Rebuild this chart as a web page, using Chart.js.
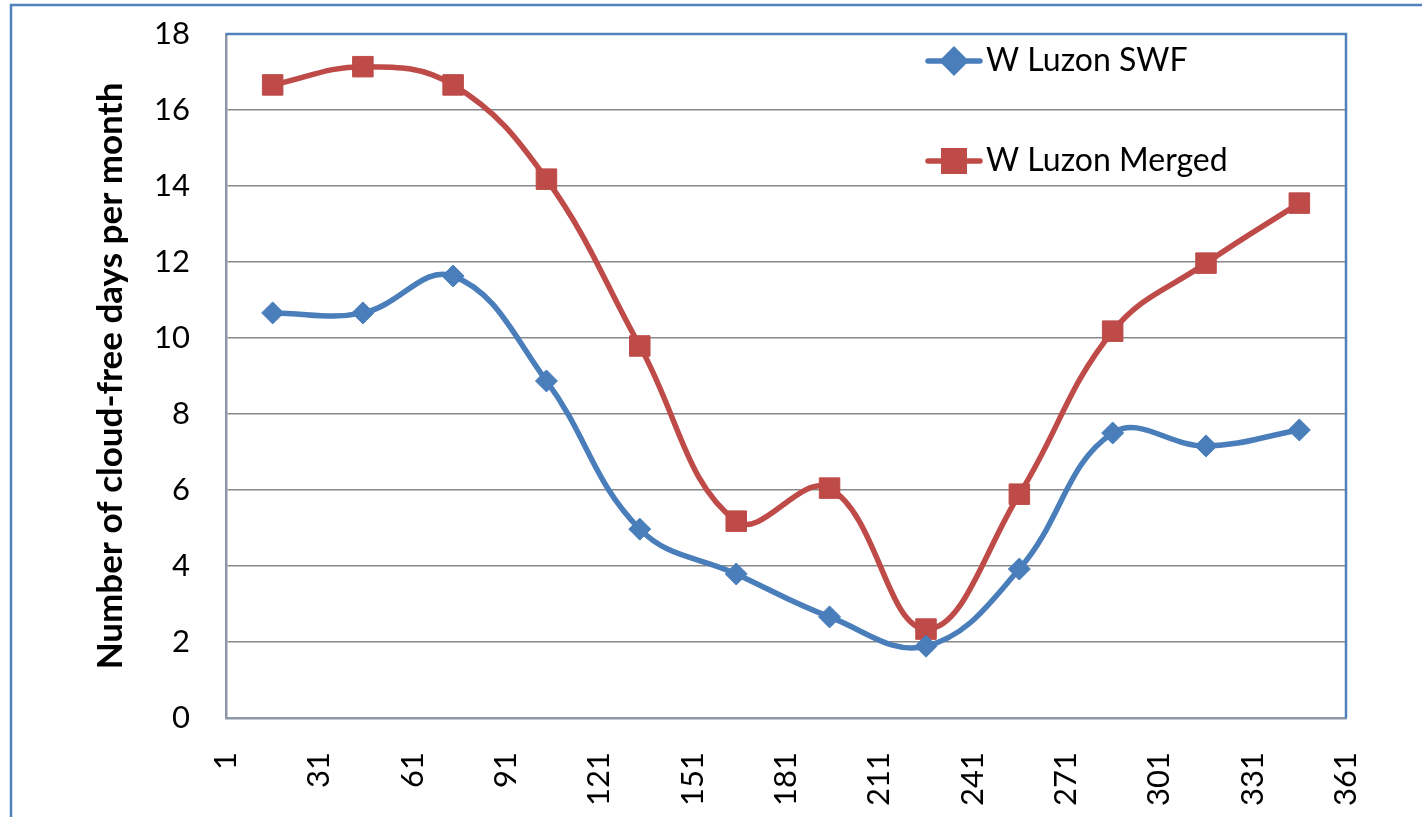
<!DOCTYPE html>
<html>
<head>
<meta charset="utf-8">
<title>W Luzon cloud-free days</title>
<script src="https://cdn.jsdelivr.net/npm/chart.js@4.4.0/dist/chart.umd.min.js"></script>
<style>
  html, body { margin: 0; padding: 0; background: #fff; overflow: hidden; }
  #wrap { position: relative; width: 1422px; height: 817px; }
</style>
</head>
<body>
<div id="wrap"><canvas id="cloudChart" width="1422" height="817"></canvas></div>
<script>
// values
const dayOfYear = [16, 45, 74, 104, 134, 165, 195, 226, 256, 286, 316, 346];
const swfDays = [10.66, 10.66, 11.63, 8.87, 4.97, 3.79, 2.66, 1.89, 3.92, 7.50, 7.16, 7.58];
const mergedDays = [16.66, 17.14, 16.66, 14.18, 9.79, 5.18, 6.05, 2.34, 5.89, 10.18, 11.97, 13.55];
const seriesNames = ['W Luzon SWF', 'W Luzon Merged'];
const yAxisTitle = 'Number of cloud-free days per month';
const xTickStart = 1, xTickEnd = 361, xTickStep = 30;
const yTickMin = 0, yTickMax = 18, yTickStep = 2;

const FONT = 'Lato, "Open Sans", sans-serif';
const BLUE = '#4a7ebb';
const RED = '#be4b48';
const FRAME = '#4f81bd';

const toPoints = (ys) => ys.map((y, i) => ({ x: dayOfYear[i], y: y }));

// the plot box is pinned, so drop the label overhang padding chart.js adds
const noOverhang = (scale) => {
    scale.paddingTop = 0;
    scale.paddingBottom = 0;
    scale.paddingLeft = 0;
    scale.paddingRight = 0;
};

// outer frame + plot area border (top and right are blue in the original)
const framePlugin = {
    id: 'frame',
    beforeDraw(chart) {
        const ctx = chart.ctx;
        ctx.save();
        ctx.fillStyle = '#fff';
        ctx.fillRect(0, 0, chart.width, chart.height);
        ctx.strokeStyle = FRAME;
        ctx.lineWidth = 2.5;
        ctx.beginPath();
        ctx.moveTo(11, chart.height + 5);
        ctx.lineTo(11, 5);
        ctx.lineTo(chart.width + 5, 5);
        ctx.stroke();
        ctx.restore();
    },
    beforeDatasetsDraw(chart) {
        const { ctx, chartArea } = chart;
        ctx.save();
        ctx.strokeStyle = FRAME;
        ctx.lineWidth = 2.5;
        ctx.beginPath();
        ctx.moveTo(chartArea.left, chartArea.top);
        ctx.lineTo(chartArea.right, chartArea.top);
        ctx.lineTo(chartArea.right, chartArea.bottom);
        ctx.stroke();
        ctx.restore();
    }
};

// legend sits inside the plot, top right, one item per row
const insideLegend = {
    id: 'insideLegend',
    afterDraw(chart) {
        const ctx = chart.ctx;
        const rows = [61, 161];
        ctx.save();
        chart.data.datasets.forEach((ds, i) => {
            const y = rows[i];
            ctx.strokeStyle = ds.borderColor;
            ctx.lineWidth = 5.5;
            ctx.lineCap = 'round';
            ctx.beginPath();
            ctx.moveTo(928, y);
            ctx.lineTo(980, y);
            ctx.stroke();
            ctx.fillStyle = ds.pointBackgroundColor;
            ctx.strokeStyle = ds.pointBorderColor;
            Chart.helpers.drawPoint(ctx, {
                pointStyle: ds.pointStyle,
                radius: ds.pointRadius,
                rotation: 0,
                borderWidth: 1
            }, 954, y);
            ctx.fillStyle = '#000';
            ctx.font = '32px ' + FONT;
            ctx.textBaseline = 'middle';
            ctx.textAlign = 'left';
            ctx.fillText(ds.label, 986, y);
        });
        ctx.restore();
    }
};

const ctx = document.getElementById('cloudChart').getContext('2d');
new Chart(ctx, {
    type: 'line',
    data: {
        datasets: [
            {
                label: seriesNames[0],
                data: toPoints(swfDays),
                borderColor: BLUE,
                backgroundColor: BLUE,
                pointBackgroundColor: BLUE,
                pointBorderColor: BLUE,
                pointStyle: 'rectRot',
                pointRadius: 11,
                pointBorderWidth: 1,
                borderWidth: 5.5,
                tension: 0.4,
                fill: false
            },
            {
                label: seriesNames[1],
                data: toPoints(mergedDays),
                borderColor: RED,
                backgroundColor: RED,
                pointBackgroundColor: RED,
                pointBorderColor: RED,
                pointStyle: 'rect',
                pointRadius: 14.5,
                pointBorderWidth: 1,
                borderWidth: 5.5,
                tension: 0.4,
                fill: false
            }
        ]
    },
    options: {
        responsive: false,
        animation: false,
        events: [],
        layout: { padding: { left: 0, top: 34, right: 76, bottom: 0 } },
        plugins: {
            legend: { display: false },
            tooltip: { enabled: false }
        },
        scales: {
            x: {
                type: 'linear',
                min: xTickStart,
                max: xTickEnd,
                afterFit: (scale) => { scale.height = 99; noOverhang(scale); },
                afterBuildTicks: (scale) => {
                    const t = [];
                    for (let v = xTickStart; v <= xTickEnd; v += xTickStep) t.push({ value: v });
                    scale.ticks = t;
                },
                ticks: {
                    minRotation: 90,
                    maxRotation: 90,
                    padding: 34,
                    color: '#000',
                    font: { family: FONT, size: 31 }
                },
                grid: { display: false, drawTicks: false },
                border: { display: true, color: '#8b97a7', width: 2.5 }
            },
            y: {
                min: yTickMin,
                max: yTickMax,
                afterFit: (scale) => { scale.width = 226; noOverhang(scale); },
                ticks: {
                    stepSize: yTickStep,
                    padding: 36,
                    color: '#000',
                    font: { family: FONT, size: 31 }
                },
                grid: { color: '#888888', lineWidth: 1.6, drawTicks: false },
                border: { display: true, color: '#8b97a7', width: 2.5 },
                title: {
                    display: true,
                    text: yAxisTitle,
                    color: '#000',
                    font: { family: FONT, size: 35, weight: 'bold' },
                    padding: { top: 90, bottom: 0 }
                }
            }
        }
    },
    plugins: [framePlugin, insideLegend]
});
</script>
</body>
</html>
